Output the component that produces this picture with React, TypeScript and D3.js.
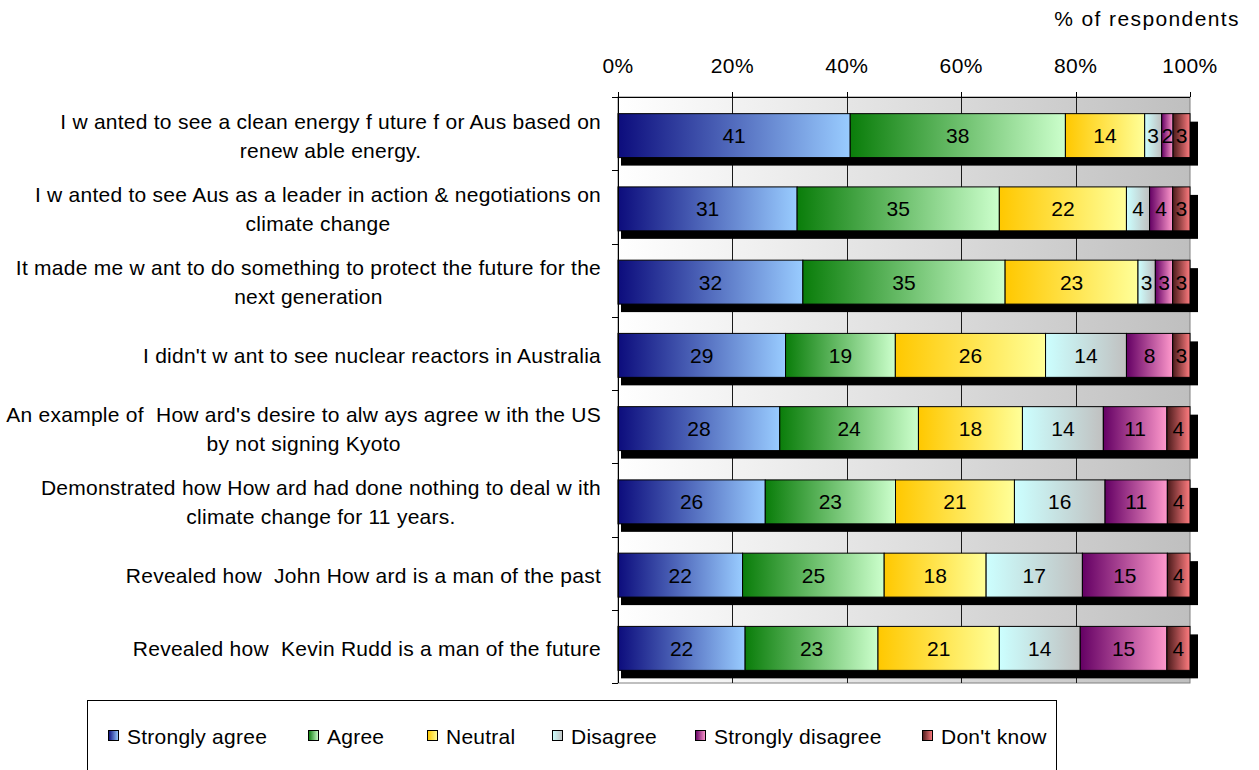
import * as React from 'react';
import * as d3 from 'd3';

// categories, top to bottom
const categories: string[][] = [
    ['I w anted to see a clean energy f uture f or Aus based on', 'renew able energy.'],
    ['I w anted to see Aus as a leader in action & negotiations on', 'climate change'],
    ['It made me w ant to do something to protect the future for the', 'next generation'],
    ["I didn't w ant to see nuclear reactors in Australia"],
    ["An example of  How ard's desire to alw ays agree w ith the US", 'by not signing Kyoto'],
    ['Demonstrated how How ard had done nothing to deal w ith', 'climate change for 11 years.'],
    ['Revealed how  John How ard is a man of the past'],
    ['Revealed how  Kevin Rudd is a man of the future'],
];

const seriesNames = ['Strongly agree', 'Agree', 'Neutral', 'Disagree', 'Strongly disagree', "Don't know"];

const stronglyAgree = [41, 31, 32, 29, 28, 26, 22, 22];
const agree = [38, 35, 35, 19, 24, 23, 25, 23];
const neutral = [14, 22, 23, 26, 18, 21, 18, 21];
const disagree = [3, 4, 3, 14, 14, 16, 17, 14];
const stronglyDisagree = [2, 4, 3, 8, 11, 11, 15, 15];
const dontKnow = [3, 3, 3, 3, 4, 4, 4, 4];

const xTicks = [0, 0.2, 0.4, 0.6, 0.8, 1];

// gradient stops (left -> right) per series
const gradientStops: [string, string][] = [
    ['#0c0c7c', '#99ccff'],
    ['#0a7d0a', '#ccffcc'],
    ['#ffc800', '#ffff99'],
    ['#ccffff', '#c0c0c0'],
    ['#640064', '#ff99cc'],
    ['#4a1a1a', '#ff7c80'],
];

const WIDTH = 1259;
const HEIGHT = 770;
const PLOT = { left: 618, right: 1190, top: 97, bottom: 683 };
const FONT = '"Liberation Sans", Arial, sans-serif';

export default function App() {
    const ref = React.useRef<SVGSVGElement>(null);

    React.useEffect(() => {
        const svg = d3.select(ref.current);
        svg.selectAll('*').remove();

        const seriesData = [stronglyAgree, agree, neutral, disagree, stronglyDisagree, dontKnow];
        const rows = categories.map((c, i) => {
            const r: any = { key: i };
            seriesNames.forEach((s, k) => { r[s] = seriesData[k][i]; });
            return r;
        });

        const stack = d3.stack().keys(seriesNames).offset(d3.stackOffsetExpand);
        const stacked = stack(rows);

        const x = d3.scaleLinear().domain([0, 1]).range([PLOT.left, PLOT.right]);
        const y = d3.scaleBand<number>()
            .domain(categories.map((c, i) => i))
            .range([PLOT.top, PLOT.bottom])
            .paddingInner(0.4)
            .paddingOuter(0.2);

        // DEFS
        const defs = svg.append('defs');
        const bg = defs.append('linearGradient').attr('id', 'bg')
            .attr('x1', 0).attr('x2', 1).attr('y1', 0).attr('y2', 0);
        bg.append('stop').attr('offset', 0).attr('stop-color', '#ffffff');
        bg.append('stop').attr('offset', 1).attr('stop-color', '#bfbfbf');

        gradientStops.forEach((g, k) => {
            const lg = defs.append('linearGradient').attr('id', 'g' + k)
                .attr('x1', 0).attr('x2', 1).attr('y1', 0).attr('y2', 0);
            lg.append('stop').attr('offset', 0).attr('stop-color', g[0]);
            lg.append('stop').attr('offset', 1).attr('stop-color', g[1]);
        });

        // PLOT BACKGROUND
        svg.append('rect')
            .attr('x', PLOT.left).attr('y', PLOT.top)
            .attr('width', PLOT.right - PLOT.left).attr('height', PLOT.bottom - PLOT.top)
            .attr('fill', 'url(#bg)')
            .attr('stroke', '#808080');

        // vertical grid lines
        svg.append('g').selectAll('line')
            .data(xTicks.slice(1, -1))
            .join('line')
            .attr('x1', d => Math.round(x(d)) + 0.5).attr('x2', d => Math.round(x(d)) + 0.5)
            .attr('y1', PLOT.top).attr('y2', PLOT.bottom)
            .attr('stroke', '#1a1a1a');

        const barShift = 2;
        const bw = y.bandwidth();

        // shadows
        svg.append('g').selectAll('rect')
            .data(rows)
            .join('rect')
            .attr('x', x(0) + 3)
            .attr('y', (d, i) => (y(i) as number) + barShift + 8)
            .attr('width', x(1) - x(0) + 5)
            .attr('height', bw)
            .attr('fill', '#000');

        // bars
        const layers = svg.append('g').selectAll('g')
            .data(stacked)
            .join('g')
            .attr('fill', (d, k) => `url(#g${k})`);

        layers.selectAll('rect')
            .data(d => d.map((v, i) => ({ v, i })))
            .join('rect')
            .attr('x', d => x(d.v[0]))
            .attr('y', d => (y(d.i) as number) + barShift)
            .attr('width', d => x(d.v[1]) - x(d.v[0]))
            .attr('height', bw)
            .attr('stroke', '#000')
            .attr('stroke-width', 1);

        // value labels
        stacked.forEach((layer, k) => {
            svg.append('g').selectAll('text')
                .data(layer.map((v, i) => ({ v, i, val: seriesData[k][i] })))
                .join('text')
                .attr('x', d => (x(d.v[0]) + x(d.v[1])) / 2)
                .attr('y', d => (y(d.i) as number) + barShift + bw / 2)
                .attr('dy', '0.36em')
                .attr('text-anchor', 'middle')
                .attr('font-family', FONT)
                .attr('font-size', 21)
                .attr('fill', '#000')
                .text(d => d.val);
        });

        // LEFT AXIS
        const axisG = svg.append('g');
        axisG.append('line')
            .attr('x1', PLOT.left + 0.5).attr('x2', PLOT.left + 0.5)
            .attr('y1', PLOT.top).attr('y2', PLOT.bottom)
            .attr('stroke', '#000');
        const bounds = d3.range(categories.length + 1).map(i => PLOT.top + i * y.step());
        axisG.selectAll('.ytick')
            .data(bounds)
            .join('line')
            .attr('class', 'ytick')
            .attr('x1', PLOT.left - 6).attr('x2', PLOT.left)
            .attr('y1', d => Math.round(d) + 0.5).attr('y2', d => Math.round(d) + 0.5)
            .attr('stroke', '#000');

        // TOP AXIS
        axisG.append('line')
            .attr('x1', PLOT.left).attr('x2', PLOT.right)
            .attr('y1', PLOT.top + 0.5).attr('y2', PLOT.top + 0.5)
            .attr('stroke', '#000');
        axisG.selectAll('.xtick')
            .data(xTicks)
            .join('line')
            .attr('class', 'xtick')
            .attr('x1', d => Math.round(x(d)) + 0.5).attr('x2', d => Math.round(x(d)) + 0.5)
            .attr('y1', PLOT.top - 5).attr('y2', PLOT.top)
            .attr('stroke', '#000');
        axisG.selectAll('.xlabel')
            .data(xTicks)
            .join('text')
            .attr('class', 'xlabel')
            .attr('x', d => x(d))
            .attr('y', 73)
            .attr('text-anchor', 'middle')
            .attr('font-family', FONT)
            .attr('font-size', 21)
            .attr('letter-spacing', 0.4)
            .text(d => d3.format('.0%')(d));

        svg.append('text')
            .attr('x', 1240).attr('y', 26)
            .attr('text-anchor', 'end')
            .attr('font-family', FONT)
            .attr('font-size', 21)
            .attr('letter-spacing', 1.4)
            .text('% of respondents');

        // CATEGORY LABELS (centered blocks, right edge at 601)
        const lineH = 29;
        categories.forEach((lines, i) => {
            const cy = (y(i) as number) + barShift + bw / 2;
            const g = svg.append('g');
            const texts = g.selectAll('text')
                .data(lines)
                .join('text')
                .attr('y', (d, j) => cy + (j - (lines.length - 1) / 2) * lineH)
                .attr('dy', '0.36em')
                .attr('text-anchor', 'middle')
                .attr('font-family', FONT)
                .attr('font-size', 21)
                .attr('letter-spacing', 0.25)
                .style('white-space', 'pre')
                .text(d => d);
            let maxW = 0;
            texts.each(function () {
                maxW = Math.max(maxW, (this as SVGTextElement).getComputedTextLength());
            });
            texts.attr('x', 601 - maxW / 2);
        });

        // LEGEND
        const legend = svg.append('g');
        legend.append('rect')
            .attr('x', 87.5).attr('y', 700.5)
            .attr('width', 969).attr('height', 120)
            .attr('fill', '#fff')
            .attr('stroke', '#000');
        const legendX = [108, 308, 427, 552, 695, 922];
        const items = legend.selectAll('g')
            .data(seriesNames)
            .join('g')
            .attr('transform', (d, k) => `translate(${legendX[k]},736)`);
        items.append('rect')
            .attr('x', 0.5).attr('y', -5.5)
            .attr('width', 10).attr('height', 10)
            .attr('fill', (d, k) => `url(#g${k})`)
            .attr('stroke', '#000');
        items.append('text')
            .attr('x', 19)
            .attr('y', 0)
            .attr('dy', '0.36em')
            .attr('font-family', FONT)
            .attr('font-size', 21)
            .attr('letter-spacing', 0.25)
            .text(d => d);
    }, []);

    return (
        <svg
            ref={ref}
            width={WIDTH}
            height={HEIGHT}
            style={{ position: 'absolute', left: 0, top: 0, background: '#fff' }}
        />
    );
}
